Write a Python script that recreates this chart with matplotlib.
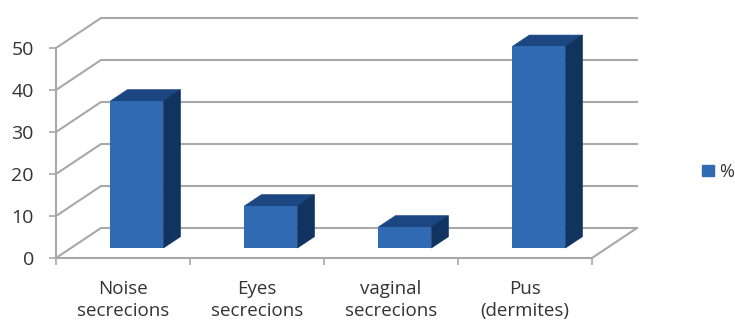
import matplotlib
matplotlib.use('Agg')
import matplotlib.pyplot as plt
from matplotlib.patches import Polygon, Patch

categories = ['Noise\nsecrecions', 'Eyes\nsecrecions', 'vaginal\nsecrecions', 'Pus\n(dermites)']
values = [35, 10, 5, 48]
y_ticks = [0, 10, 20, 30, 40, 50]
series_name = '%'

FRONT = '#2f6ab3'
TOP = '#1c4682'
SIDE = '#10345f'
GRID = '#a8a8a8'
TEXT = '#333333'

# depth of the fake 3D box, in data units
DEPTH_X = 45 / 134
DEPTH_Y = 30 / 4.2
BAR_W = 0.395

plt.rcParams['font.family'] = ['Open Sans', 'DejaVu Sans']

W, H = 735, 320
fig = plt.figure(figsize=(W / 100, H / 100), dpi=100)
ax = fig.add_axes([56 / W, 62 / H, 536 / W, 210 / H])
ax.set_xlim(0, 4)
ax.set_ylim(0, 50)


def skew(x, y, d):
    # shift a point back by fraction d of the box depth
    return x + d * DEPTH_X, y + d * DEPTH_Y


# back wall gridlines with their slanted side wall parts
for v in y_ticks:
    xs = [0, DEPTH_X, 4 + DEPTH_X]
    ys = [v, v + DEPTH_Y, v + DEPTH_Y]
    ax.plot(xs, ys, color=GRID, lw=1.5, clip_on=False, zorder=1, solid_joinstyle='miter')
ax.plot([4, 4 + DEPTH_X], [0, DEPTH_Y], color=GRID, lw=1.5, clip_on=False, zorder=1)

# bars: front, top and side faces
d0, d1 = 1 / 3, 0.71
for i, val in enumerate(values):
    left = i + 0.492 - BAR_W / 2
    right = left + BAR_W
    x0, y0 = skew(left, 0, d0)
    x1, _ = skew(right, 0, d0)
    _, y1 = skew(left, val, d0)
    x2, y2 = skew(left, val, d1)
    x3, _ = skew(right, val, d1)
    _, y3 = skew(right, 0, d1)
    ax.add_patch(Polygon([(x0, y1), (x2, y2), (x3, y2), (x1, y1)], fc=TOP, ec=TOP, lw=0.5, zorder=3, clip_on=False))
    ax.add_patch(Polygon([(x1, y0), (x3, y3), (x3, y2), (x1, y1)], fc=SIDE, ec=SIDE, lw=0.5, zorder=3, clip_on=False))
    ax.bar(x0, val, width=x1 - x0, bottom=y0, align='edge', color=FRONT, zorder=4, clip_on=False)

for side in ['top', 'right']:
    ax.spines[side].set_visible(False)
for side in ['left', 'bottom']:
    ax.spines[side].set_color(GRID)
    ax.spines[side].set_linewidth(1.5)
    ax.spines[side].set_zorder(2)

ax.set_yticks(y_ticks)
ax.set_xticks(range(5))
ax.set_xticklabels([])
ax.set_xticks([i + 0.5 for i in range(4)], minor=True)
ax.set_xticklabels(categories, minor=True, fontsize=13.5, color=TEXT, linespacing=1.3)
ax.tick_params(axis='x', which='major', length=5, width=1.2, color=GRID)
ax.tick_params(axis='x', which='minor', length=0, pad=15.5)
ax.tick_params(axis='y', length=5, width=1.2, color=GRID, labelsize=14, labelcolor=TEXT, pad=11)

leg = ax.legend(handles=[Patch(color=FRONT, label=series_name)], frameon=False,
                loc='center left', bbox_to_anchor=(646 / 536, 0.41), fontsize=13,
                handlelength=0.66, handleheight=0.55, handletextpad=0.3, labelcolor=TEXT,
                borderaxespad=0, borderpad=0)

fig.savefig('out.png', dpi=100)
